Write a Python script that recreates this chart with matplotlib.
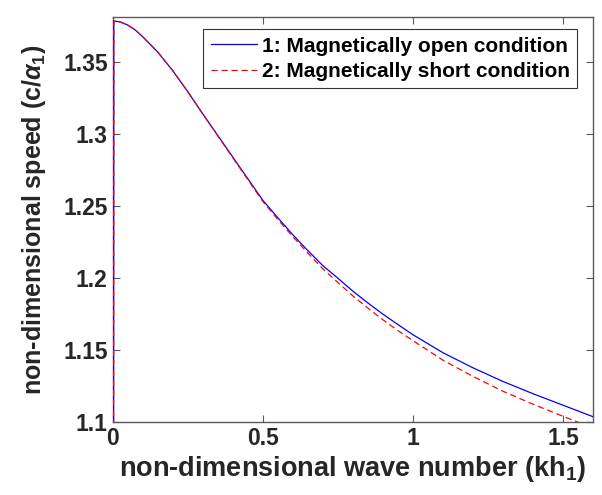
import matplotlib
matplotlib.use("Agg")
import matplotlib.pyplot as plt

# wave number kh1 and speed c/alpha1
kh = [0.003, 0.004, 0.025, 0.05, 0.075, 0.1, 0.15, 0.2, 0.25, 0.3, 0.35, 0.4, 0.45,
      0.5, 0.55, 0.6, 0.65, 0.7, 0.75, 0.8, 0.85, 0.9, 0.95,
      1.0, 1.1, 1.2, 1.3, 1.4, 1.5, 1.6]

speed_open = [1.0, 1.3785, 1.3778, 1.3757, 1.3723, 1.3676, 1.3570, 1.3440, 1.3295, 1.3140, 1.2990,
              1.2840, 1.2690, 1.2540, 1.2418, 1.2300, 1.2190, 1.2085, 1.1998, 1.1908, 1.1826,
              1.1748, 1.1676, 1.1605, 1.1480, 1.1375, 1.1280, 1.1195, 1.1115, 1.1035]

speed_short = [1.0, 1.3785, 1.3778, 1.3757, 1.3723, 1.3676, 1.3570, 1.3440, 1.3295, 1.3140, 1.2988,
               1.2836, 1.2684, 1.2532, 1.2407, 1.2287, 1.2173, 1.2063, 1.1968, 1.1875, 1.1790,
               1.1709, 1.1634, 1.1564, 1.1428, 1.1315, 1.1212, 1.1122, 1.1038, 1.0955]

labels = ["1: Magnetically open condition", "2: Magnetically short condition"]
x_ticks = [0, 0.5, 1, 1.5]
x_tick_labels = ["0", "0.5", "1", "1.5"]
y_ticks = [1.1, 1.15, 1.2, 1.25, 1.3, 1.35]
y_tick_labels = ["1.1", "1.15", "1.2", "1.25", "1.3", "1.35"]

plt.rcParams["font.family"] = ["Liberation Sans", "DejaVu Sans"]
plt.rcParams["mathtext.fontset"] = "custom"
plt.rcParams["mathtext.rm"] = "Liberation Sans:bold"
plt.rcParams["mathtext.it"] = "Liberation Sans:italic:bold"
plt.rcParams["mathtext.bf"] = "Liberation Sans:bold"

fig = plt.figure(figsize=(6.02, 4.95), dpi=100)
ax = fig.add_axes([0.187, 0.148, 0.798, 0.817])

# lines above the spines so the jump near kh=0 shows on the left axis
ax.plot(kh, speed_open, color="blue", lw=0.9, label=labels[0], zorder=3)
ax.plot(kh, speed_short, color="red", lw=0.9, ls=(0, (5, 3)), label=labels[1], zorder=3)

ax.set_xlim(0, 1.6)
ax.set_ylim(1.1, 1.381)
ax.set_xticks(x_ticks, x_tick_labels)
ax.set_yticks(y_ticks, y_tick_labels)

axis_grey = "#262626"
for s in ax.spines.values():
    s.set_color("#5a5a5a")
    s.set_linewidth(1.0)
ax.tick_params(direction="in", top=True, right=True, length=5, width=0.8,
               colors="#5a5a5a", labelcolor=axis_grey, labelsize=16.5)
for t in ax.get_xticklabels() + ax.get_yticklabels():
    t.set_fontweight("bold")

ax.set_xlabel(r"non-dimensional wave number (kh$_\mathbf{1}$)", fontsize=19.5,
              fontweight="bold", color=axis_grey, labelpad=3)
ax.set_ylabel(r"non-dimensional speed (c/$\alpha_\mathbf{1}$)", fontsize=18,
              fontweight="bold", color=axis_grey, labelpad=11)

leg = ax.legend(loc="upper right", bbox_to_anchor=(0.967, 0.97),
                prop={"weight": "bold", "size": 15}, frameon=True, fancybox=False,
                edgecolor="black", handlelength=2.2, handletextpad=0.25,
                borderpad=0.35, labelspacing=0.3, borderaxespad=0.0)
leg.get_frame().set_linewidth(0.8)

fig.savefig("out.png", dpi=100)
